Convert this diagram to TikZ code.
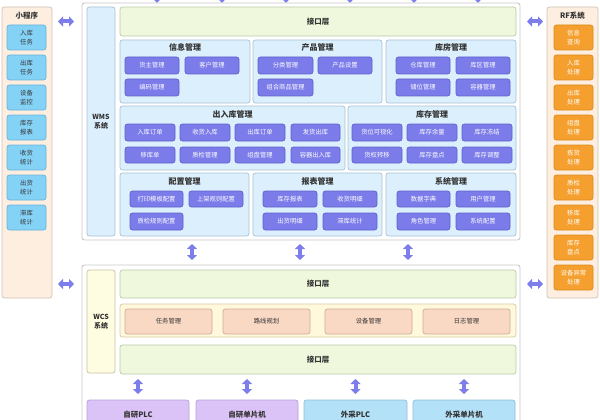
\documentclass[tikz,border=0pt]{standalone}
\usepackage{fontspec}
\setmainfont{Noto Sans CJK SC}
\usetikzlibrary{arrows.meta}
\definecolor{peach}{HTML}{FDEEDF}
\definecolor{peachd}{HTML}{CFC3B8}
\definecolor{outerd}{HTML}{C8C8C8}
\definecolor{lblue}{HTML}{DCEFFC}
\definecolor{lblued}{HTML}{A9C2D4}
\definecolor{iface}{HTML}{EFF8DD}
\definecolor{ifaced}{HTML}{BCCBA8}
\definecolor{purp}{HTML}{7B7BEA}
\definecolor{purpd}{HTML}{6262CC}
\definecolor{sky}{HTML}{85D2F7}
\definecolor{skyd}{HTML}{6AB5DA}
\definecolor{orng}{HTML}{F5A02E}
\definecolor{orngd}{HTML}{D98B22}
\definecolor{ylab}{HTML}{FFFDE1}
\definecolor{ylabd}{HTML}{C8C4A0}
\definecolor{band}{HTML}{FFF8DC}
\definecolor{bandd}{HTML}{D6CCA0}
\definecolor{salm}{HTML}{F9D8C4}
\definecolor{salmd}{HTML}{CFAE98}
\definecolor{lilac}{HTML}{DCC3F7}
\definecolor{lilacd}{HTML}{B8A0D8}
\definecolor{bblue}{HTML}{B3E1F8}
\definecolor{bblued}{HTML}{8DBFD8}
\definecolor{arrc}{HTML}{7E7EEA}
\definecolor{txt}{HTML}{333333}
\newcommand\mkbox[7]{%
  \pgfmathsetmacro\mkbw{#5-#3}\pgfmathsetmacro\mkbh{#6-#4}%
  \pgfmathsetmacro\mkcx{(#3+#5)/2}\pgfmathsetmacro\mkcy{(#4+#6)/2}%
  \node[#1,minimum width=\mkbw pt,minimum height=\mkbh pt] (#2) at (\mkcx,\mkcy) {#7};}
\begin{document}
\begin{tikzpicture}[x=1pt,y=-1pt,
  base/.style={draw,rounded corners=2.5pt,inner sep=0pt,outer sep=0pt,line width=0.7pt,align=center,text=txt},
  panel/.style={base,fill=peach,draw=peachd},
  outer/.style={base,fill=white,draw=outerd,line width=0.9pt},
  wmslab/.style={base,fill=lblue,draw=lblued,font=\fontsize{7}{8.5}\selectfont\bfseries},
  wcslab/.style={base,fill=ylab,draw=ylabd,font=\fontsize{7}{8.5}\selectfont\bfseries},
  ifbox/.style={base,fill=iface,draw=ifaced,font=\fontsize{7.5}{9}\selectfont\bfseries},
  module/.style={base,fill=lblue,draw=lblued},
  mtitle/.style={inner sep=0pt,text=txt,font=\fontsize{8}{9}\selectfont\bfseries},
  btn/.style={base,fill=purp,draw=purpd,text=white,font=\fontsize{6.3}{7}\selectfont},
  skyitem/.style={base,fill=sky,draw=skyd,font=\fontsize{6.3}{9}\selectfont},
  orngitem/.style={base,fill=orng,draw=orngd,text=white,font=\fontsize{6.3}{9}\selectfont},
  bandbox/.style={base,fill=band,draw=bandd},
  salmbox/.style={base,fill=salm,draw=salmd,font=\fontsize{6.3}{7}\selectfont},
  lilacbox/.style={base,fill=lilac,draw=lilacd,font=\fontsize{7.5}{9}\selectfont\bfseries},
  bbluebox/.style={base,fill=bblue,draw=bblued,font=\fontsize{7.5}{9}\selectfont\bfseries},
  ptitle/.style={inner sep=0pt,text=txt,font=\fontsize{7.5}{9}\selectfont\bfseries},
  harrow/.style={draw=arrc,line width=4pt,{Triangle[length=5pt,width=10pt]}-{Triangle[length=5pt,width=10pt]}},
  varrow/.style={draw=arrc,line width=4pt,{Triangle[length=5pt,width=10pt]}-{Triangle[length=5pt,width=10pt]}},
  tarrow/.style={draw=arrc,line width=1.2pt,-{Triangle[length=4pt,width=7pt]}}
]
\useasboundingbox (0,0) rectangle (600,420);
\clip (0,0) rectangle (600,420);

% top incoming arrow tips
\foreach \i/\xx in {1/157,2/222,3/286,4/350,5/414,6/478}{
  \coordinate (ts\i) at (\xx,-12);
  \coordinate (te\i) at (\xx,3);
  \draw[tarrow] (ts\i) -- (te\i);
}

% left panel
\mkbox{panel}{mini}{2}{7}{52}{298}{}
\node[ptitle] (minit) at (27,16) {小程序};
\mkbox{skyitem}{m1}{7}{25}{46}{50}{入库\\任务}
\mkbox{skyitem}{m2}{7}{55}{46}{80}{出库\\任务}
\mkbox{skyitem}{m3}{7}{85}{46}{110}{设备\\监控}
\mkbox{skyitem}{m4}{7}{115}{46}{140}{库存\\报表}
\mkbox{skyitem}{m5}{7}{145}{46}{170}{收货\\统计}
\mkbox{skyitem}{m6}{7}{175}{46}{200}{出货\\统计}
\mkbox{skyitem}{m7}{7}{205}{46}{230}{滞库\\统计}

% right panel
\mkbox{panel}{rf}{547}{7}{598}{298}{}
\node[ptitle] (rft) at (572.5,16) {RF系统};
\mkbox{orngitem}{r1}{554}{25}{593}{50}{信息\\查询}
\mkbox{orngitem}{r2}{554}{55}{593}{80}{入库\\处理}
\mkbox{orngitem}{r3}{554}{85}{593}{110}{出库\\处理}
\mkbox{orngitem}{r4}{554}{115}{593}{140}{组盘\\处理}
\mkbox{orngitem}{r5}{554}{145}{593}{170}{拣货\\处理}
\mkbox{orngitem}{r6}{554}{175}{593}{200}{质检\\处理}
\mkbox{orngitem}{r7}{554}{205}{593}{230}{移库\\处理}
\mkbox{orngitem}{r8}{554}{235}{593}{260}{库存\\盘点}
\mkbox{orngitem}{r9}{554}{265}{593}{290}{设备异常\\处理}

% WMS
\mkbox{outer}{wms}{82}{3}{520}{240}{}
\mkbox{wmslab}{wmsl}{87}{7}{115}{236}{WMS\\系统}
\mkbox{ifbox}{wmsif}{120}{7}{516}{36}{接口层}

\mkbox{module}{info}{120}{40}{250}{103}{}
\node[mtitle] (infot) at (185,47) {信息管理};
\mkbox{btn}{b11}{125}{57}{179}{74}{货主管理}
\mkbox{btn}{b12}{185}{57}{239}{74}{客户管理}
\mkbox{btn}{b13}{125}{79}{179}{96}{编码管理}

\mkbox{module}{prod}{253}{40}{382}{103}{}
\node[mtitle] (prodt) at (317.5,47) {产品管理};
\mkbox{btn}{b21}{258}{57}{313}{74}{分类管理}
\mkbox{btn}{b22}{318}{57}{372}{74}{产品设置}
\mkbox{btn}{b23}{258}{79}{313}{96}{组合商品管理}

\mkbox{module}{wh}{386}{40}{516}{103}{}
\node[mtitle] (wht) at (451,47) {库房管理};
\mkbox{btn}{b31}{396}{57}{450}{74}{仓库管理}
\mkbox{btn}{b32}{456}{57}{510}{74}{库区管理}
\mkbox{btn}{b33}{396}{79}{450}{96}{储位管理}
\mkbox{btn}{b34}{456}{79}{510}{96}{容器管理}

\mkbox{module}{io}{120}{106}{345}{170}{}
\node[mtitle] (iot) at (232.5,114) {出入库管理};
\mkbox{btn}{b41}{125}{124}{175}{141}{入库订单}
\mkbox{btn}{b42}{180}{124}{230}{141}{收货入库}
\mkbox{btn}{b43}{235}{124}{285}{141}{出库订单}
\mkbox{btn}{b44}{291}{124}{340}{141}{发货出库}
\mkbox{btn}{b45}{125}{147}{175}{163}{移库单}
\mkbox{btn}{b46}{180}{147}{230}{163}{质检管理}
\mkbox{btn}{b47}{235}{147}{285}{163}{组盘管理}
\mkbox{btn}{b48}{291}{147}{340}{163}{容器出入库}

\mkbox{module}{inv}{348}{106}{516}{170}{}
\node[mtitle] (invt) at (432,114) {库存管理};
\mkbox{btn}{b51}{352}{124}{402}{141}{货位可视化}
\mkbox{btn}{b52}{407}{124}{457}{141}{库存余量}
\mkbox{btn}{b53}{462}{124}{512}{141}{库存冻结}
\mkbox{btn}{b54}{352}{147}{402}{163}{货权转移}
\mkbox{btn}{b55}{407}{147}{457}{163}{库存盘点}
\mkbox{btn}{b56}{462}{147}{512}{163}{库存调整}

\mkbox{module}{cfg}{120}{173}{249}{236}{}
\node[mtitle] (cfgt) at (184.5,181) {配置管理};
\mkbox{btn}{b61}{130}{191}{183}{207}{打印模板配置}
\mkbox{btn}{b62}{189}{191}{243}{207}{上架规则配置}
\mkbox{btn}{b63}{130}{213}{183}{230}{质检规则配置}

\mkbox{module}{rpt}{253}{173}{382}{236}{}
\node[mtitle] (rptt) at (317.5,181) {报表管理};
\mkbox{btn}{b71}{263}{191}{317}{207}{库存报表}
\mkbox{btn}{b72}{323}{191}{377}{207}{收货明细}
\mkbox{btn}{b73}{263}{213}{317}{230}{出货明细}
\mkbox{btn}{b74}{323}{213}{377}{230}{滞库统计}

\mkbox{module}{sys}{386}{173}{516}{236}{}
\node[mtitle] (syst) at (451,181) {系统管理};
\mkbox{btn}{b81}{397}{191}{450}{207}{数据字典}
\mkbox{btn}{b82}{456}{191}{510}{207}{用户管理}
\mkbox{btn}{b83}{397}{213}{450}{230}{角色管理}
\mkbox{btn}{b84}{456}{213}{510}{230}{系统配置}

% WCS
\mkbox{outer}{wcs}{82}{265}{520}{440}{}
\mkbox{wcslab}{wcsl}{87}{270}{115}{373}{WCS\\系统}
\mkbox{ifbox}{wcsif}{120}{270}{516}{298}{接口层}
\mkbox{bandbox}{wcsband}{120}{304}{516}{337}{}
\mkbox{salmbox}{s1}{125}{309}{212}{334}{任务管理}
\mkbox{salmbox}{s2}{223}{309}{310}{334}{路线规划}
\mkbox{salmbox}{s3}{325}{309}{412}{334}{设备管理}
\mkbox{salmbox}{s4}{423}{309}{510}{334}{日志管理}
\mkbox{ifbox}{wcsif2}{120}{345}{516}{374}{接口层}
\mkbox{lilacbox}{p1}{87}{400}{189}{430}{自研PLC}
\mkbox{lilacbox}{p2}{196}{400}{298}{430}{自研单片机}
\mkbox{bbluebox}{p3}{304}{400}{407}{430}{外采PLC}
\mkbox{bbluebox}{p4}{413}{400}{515}{430}{外采单片机}

% connectors
\draw[harrow] ([xshift=6pt]mini.east |- wmsif) -- ([xshift=-8pt]wms.west |- wmsif);
\draw[harrow] ([xshift=6pt]mini.east |- wcsif) -- ([xshift=-8pt]wcs.west |- wcsif);
\draw[harrow] ([xshift=7pt]wms.east |- wmsif) -- ([xshift=-4pt]rf.west |- wmsif);
\draw[harrow] ([xshift=7pt]wcs.east |- wcsif) -- ([xshift=-4pt]rf.west |- wcsif);
\foreach \i/\xx in {1/192,2/300,3/408}{
  \coordinate (va\i) at (\xx,244);
  \coordinate (vb\i) at (\xx,260);
  \draw[varrow] (va\i) -- (vb\i);
}
\foreach \p in {p1,p2,p3,p4}{
  \draw[varrow] ([yshift=-5pt]\p.north |- wcsif2.south) -- ([yshift=6pt]\p.north);
}
\end{tikzpicture}
\end{document}
